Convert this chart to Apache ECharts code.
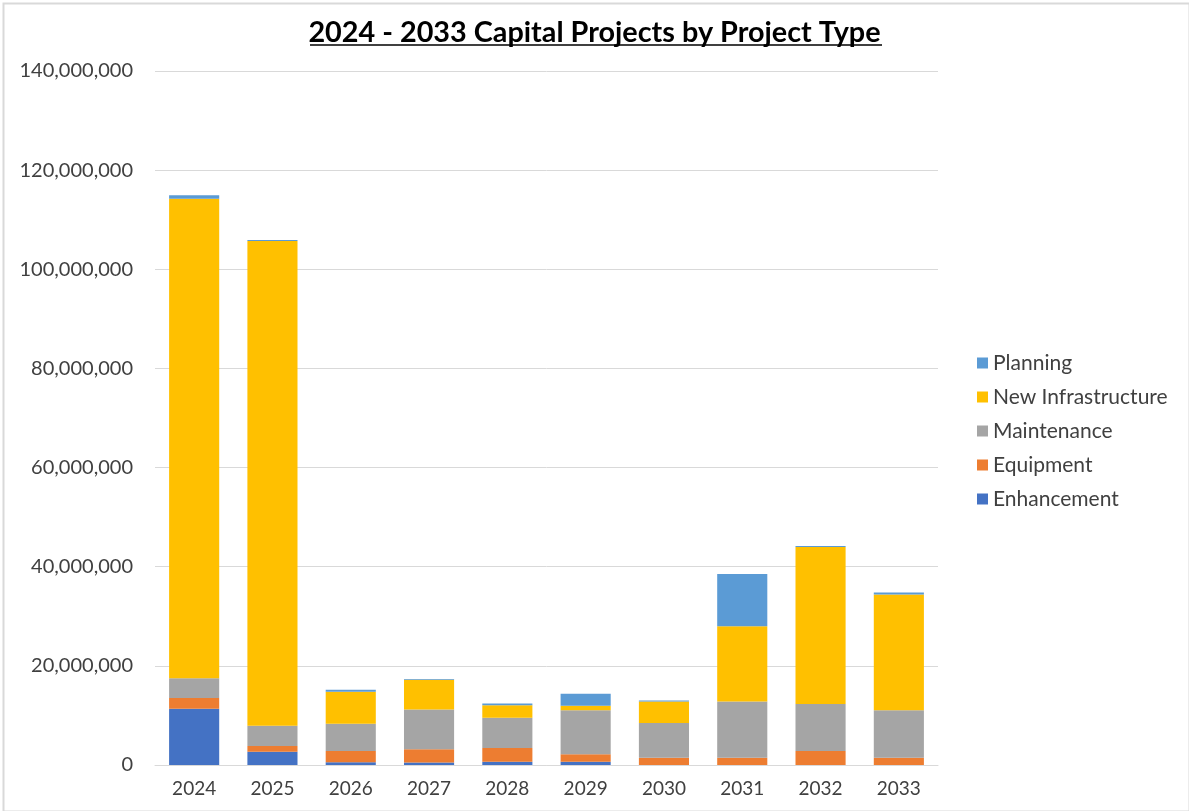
<!DOCTYPE html>
<html><head><meta charset="utf-8">
<script src="https://cdn.jsdelivr.net/npm/echarts@6/dist/echarts.min.js"></script>
<style>html,body{margin:0;padding:0;background:#fff}#c{width:1189px;height:811px}</style>
</head><body><div id="c"></div>
<script>
const years = ['2024','2025','2026','2027','2028','2029','2030','2031','2032','2033'];
const enhancement = [11.34, 2.68, 0.54, 0.5, 0.67, 0.67, 0, 0, 0, 0].map(v => v * 1e6);
const equipment = [2.2, 1.15, 2.28, 2.7, 2.75, 1.48, 1.48, 1.48, 2.82, 1.48].map(v => v * 1e6);
const maintenance = [3.97, 4.1, 5.5, 8.0, 6.1, 8.87, 6.98, 11.34, 9.47, 9.54].map(v => v * 1e6);
const newInfrastructure = [96.7, 97.8, 6.45, 6.0, 2.55, 0.95, 4.36, 15.18, 31.68, 23.37].map(v => v * 1e6);
const planning = [0.7, 0.2, 0.4, 0.13, 0.34, 2.42, 0.2, 10.53, 0.2, 0.4].map(v => v * 1e6);
const yTicks = [0, 20000000, 40000000, 60000000, 80000000, 100000000, 120000000, 140000000];

const chart = echarts.init(document.getElementById('c'));
const font = 'Lato, Open Sans, sans-serif';
function s(name, data, color) {
  return {name, type: 'bar', stack: 'a', data, itemStyle: {color}, barCategoryGap: '36%'};
}
chart.setOption({
  animation: false,
  textStyle: {fontFamily: font},
  title: {
    text: '2024 - 2033 Capital Projects by Project Type',
    left: 'center', top: 13, itemGap: 0,
    textStyle: {fontSize: 28.8, fontWeight: 'bold', color: '#000', fontFamily: font}
  },
  graphic: [
    {type: 'rect', left: 1, top: 1, shape: {width: 1186, height: 808}, style: {fill: 'none', stroke: '#d9d9d9', lineWidth: 2}, silent: true},
    {type: 'line', shape: {x1: 310, y1: 45, x2: 882, y2: 45}, style: {stroke: '#000', lineWidth: 1.5}}
  ],
  legend: {
    data: ['Planning', 'New Infrastructure', 'Maintenance', 'Equipment', 'Enhancement'],
    orient: 'vertical', left: 972, top: 347, itemGap: 12,
    itemWidth: 11, itemHeight: 11, icon: 'rect',
    textStyle: {fontSize: 21, lineHeight: 22, color: '#404040', fontFamily: font}
  },
  grid: {left: 155, right: 251, top: 71, bottom: 46, containLabel: false},
  xAxis: {
    type: 'category', data: years,
    axisLine: {lineStyle: {color: '#d9d9d9', width: 1}},
    axisTick: {show: false},
    axisLabel: {fontSize: 19, color: '#404040', margin: 14, fontFamily: font}
  },
  yAxis: {
    type: 'value', min: 0, max: 140000000, interval: 20000000,
    axisLine: {show: false}, axisTick: {show: false},
    splitLine: {lineStyle: {color: '#d9d9d9', width: 1}},
    axisLabel: {fontSize: 20, color: '#404040', margin: 22, fontFamily: font,
      formatter: v => yTicks.includes(v) ? v.toLocaleString('en-US') : ''}
  },
  series: [
    s('Enhancement', enhancement, '#4472C4'),
    s('Equipment', equipment, '#ED7D31'),
    s('Maintenance', maintenance, '#A5A5A5'),
    s('New Infrastructure', newInfrastructure, '#FFC000'),
    s('Planning', planning, '#5B9BD5')
  ]
});
</script></body></html>
